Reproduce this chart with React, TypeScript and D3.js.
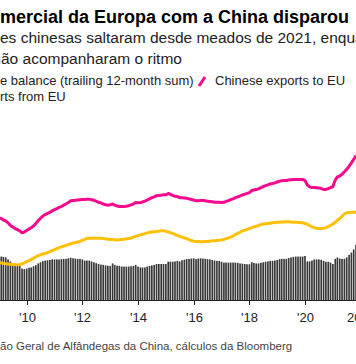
import React from "react";
import * as d3 from "d3";

// Monthly data, Jan 2009 .. Nov 2021, trailing 12-month sums (USD bn)
const START = new Date(2009, 0, 1);
const END = new Date(2021, 11, 1);

const balance = [
  152, 152, 151, 149, 142, 135, 128, 126, 124, 119,
  110, 108, 110, 113, 114, 118, 122, 128, 132, 136,
  138, 139, 140, 142, 142, 142, 142, 143, 144, 144,
  146, 148, 146, 145, 144, 144, 142, 138, 138, 138,
  135, 132, 129, 126, 124, 123, 121, 120, 119, 128,
  123, 120, 119, 117, 117, 117, 117, 118, 119, 123,
  117, 114, 114, 114, 117, 119, 121, 123, 126, 126,
  126, 126, 126, 134, 134, 134, 135, 137, 135, 139,
  141, 143, 144, 145, 146, 143, 145, 146, 145, 144,
  143, 142, 140, 138, 137, 137, 134, 131, 131, 131,
  131, 131, 131, 130, 128, 127, 126, 125, 125, 132,
  130, 128, 128, 130, 132, 134, 135, 137, 137, 138,
  140, 143, 144, 144, 144, 147, 149, 151, 152, 152,
  152, 152, 154, 135, 135, 138, 142, 142, 142, 141,
  137, 134, 134, 131, 126, 144, 149, 145, 144, 144,
  149, 158, 166, 177, 193,
];

const exportsToEU = [
  287, 285, 280, 277, 270, 261, 256, 250, 246, 242,
  235, 238, 243, 249, 253, 259, 268, 278, 286, 294,
  299, 303, 307, 312, 316, 320, 324, 327, 332, 336,
  341, 347, 348, 349, 350, 351, 352, 352, 353, 353,
  351, 349, 346, 342, 340, 336, 333, 332, 333, 336,
  332, 329, 327, 327, 327, 328, 330, 333, 336, 341,
  340, 341, 343, 346, 350, 354, 358, 361, 365, 366,
  367, 368, 368, 373, 370, 366, 363, 362, 358, 358,
  357, 356, 354, 352, 350, 347, 347, 348, 348, 347,
  346, 345, 344, 342, 342, 342, 341, 342, 345, 348,
  351, 354, 358, 361, 364, 368, 370, 373, 376, 383,
  385, 387, 389, 393, 397, 400, 403, 406, 408, 410,
  413, 416, 417, 418, 418, 420, 421, 422, 422, 422,
  422, 422, 418, 403, 396, 394, 394, 393, 392, 390,
  387, 387, 390, 393, 397, 420, 431, 434, 440, 449,
  457, 468, 480, 492, 506,
];

const importsFromEU = [
  131, 130, 128, 127, 126, 125, 124, 123, 123, 124,
  126, 130, 134, 138, 142, 146, 151, 155, 158, 161,
  163, 166, 169, 173, 176, 180, 183, 186, 189, 191,
  194, 197, 199, 201, 203, 205, 209, 212, 216, 216,
  216, 216, 216, 216, 216, 215, 214, 213, 212, 212,
  211, 210, 211, 212, 213, 214, 215, 217, 220, 223,
  225, 228, 230, 232, 235, 237, 238, 239, 240, 241,
  242, 242, 241, 238, 236, 233, 230, 226, 223, 220,
  217, 215, 211, 208, 206, 205, 205, 204, 204, 205,
  205, 206, 207, 207, 208, 209, 210, 212, 215, 217,
  220, 224, 229, 233, 237, 242, 244, 247, 250, 253,
  256, 258, 261, 264, 266, 267, 268, 269, 270, 271,
  272, 272, 273, 273, 274, 274, 273, 272, 272, 271,
  271, 270, 268, 265, 261, 256, 253, 251, 250, 250,
  251, 253, 257, 261, 266, 272, 279, 285, 293, 301,
  305, 306, 307, 307, 307,
];

const tickYears = [2008, 2010, 2012, 2014, 2016, 2018, 2020, 2022];
const tickLabels = ["2008", "'10", "'12", "'14", "'16", "'18", "'20", "2022"];

const W = 356;
const H = 364;
const PINK = "#f7088c";
const YELLOW = "#ffc107";
const FONT = "'Liberation Sans', Arial, Helvetica, sans-serif";

export default function App() {
  const months = d3.timeMonth.range(START, END);
  const x = d3
    .scaleTime()
    .domain([new Date(2010, 0, 1), new Date(2020, 0, 1)])
    .range([26.7, 305]);
  const y = d3.scaleLinear().domain([0, 600]).range([300, 300 - 600 / 3.5]);

  const step = x(new Date(2011, 0, 1)) - x(new Date(2010, 0, 1));
  const barW = (step / 12) * 0.72;

  const line = d3
    .line<number>()
    .x((_, i) => x(months[i]))
    .y((d) => y(d));

  return (
    <svg
      width={W}
      height={H}
      style={{ position: "absolute", left: 0, top: 0, background: "#fff" }}
      fontFamily={FONT}
    >
      <rect x={0} y={0} width={W} height={H} fill="#fff" />
      {/* Title */}
      <text x={0} y={23} fontSize={18} fontWeight="bold" fill="#000" textAnchor="end">
        O déficit co
      </text>
      <text x={0} y={23} fontSize={18} fontWeight="bold" fill="#000">
        mercial da Europa com a China disparou
      </text>
      {/* Subtitle */}
      <text x={0} y={43} fontSize={15.5} fill="#222" textAnchor="end">
        As exportaçõ
      </text>
      <text x={0} y={43} fontSize={15.5} fill="#222">
        es chinesas saltaram desde meados de 2021, enquanto
      </text>
      <text x={1} y={64} fontSize={15.5} fill="#222" textAnchor="end">
        as importações da UE n
      </text>
      <text x={1} y={64} fontSize={15.5} fill="#222">
        ão acompanharam o ritmo
      </text>
      {/* Legend */}
      <text x={0} y={85} fontSize={13} fill="#222" textAnchor="end">
        Trad
      </text>
      <text x={0} y={85} fontSize={13} fill="#222">
        e balance (trailing 12-month sum)
      </text>
      <line x1={199} y1={86} x2={205} y2={77} stroke={PINK} strokeWidth={3} strokeLinecap="butt" />
      <text x={215} y={85} fontSize={13} fill="#222">
        Chinese exports to EU
      </text>
      <text x={0} y={101} fontSize={13} fill="#222" textAnchor="end">
        Chinese impo
      </text>
      <text x={0} y={101} fontSize={13} fill="#222">
        rts from EU
      </text>

      {/* Bars */}
      {balance.map((v, i) => (
        <rect
          key={i}
          x={x(months[i]) - barW / 2}
          y={y(v)}
          width={barW}
          height={y(0) - y(v)}
          fill="#383838"
        />
      ))}
      {/* Axis */}
      <line x1={0} x2={W} y1={300.5} y2={300.5} stroke="#222" strokeWidth={1} />
      {tickYears.map((yr, i) => {
        const tx = Math.round(x(new Date(yr, 0, 1))) + 0.5;
        return (
          <g key={yr}>
            <line x1={tx} x2={tx} y1={300} y2={305} stroke="#222" strokeWidth={1} />
            <text x={tx} y={322} fontSize={13} fill="#222" textAnchor="middle">
              {tickLabels[i]}
            </text>
          </g>
        );
      })}

      {/* Lines */}
      <path d={line(importsFromEU) || ""} fill="none" stroke={YELLOW} strokeWidth={3} strokeLinejoin="round" />
      <path d={line(exportsToEU) || ""} fill="none" stroke={PINK} strokeWidth={3} strokeLinejoin="round" />

      {/* Footer */}
      <text x={0} y={350} fontSize={11.5} fill="#444" textAnchor="end">
        Fonte: Administraç
      </text>
      <text x={0} y={350} fontSize={11.5} fill="#444">
        ão Geral de Alfândegas da China, cálculos da Bloomberg
      </text>
    </svg>
  );
}
